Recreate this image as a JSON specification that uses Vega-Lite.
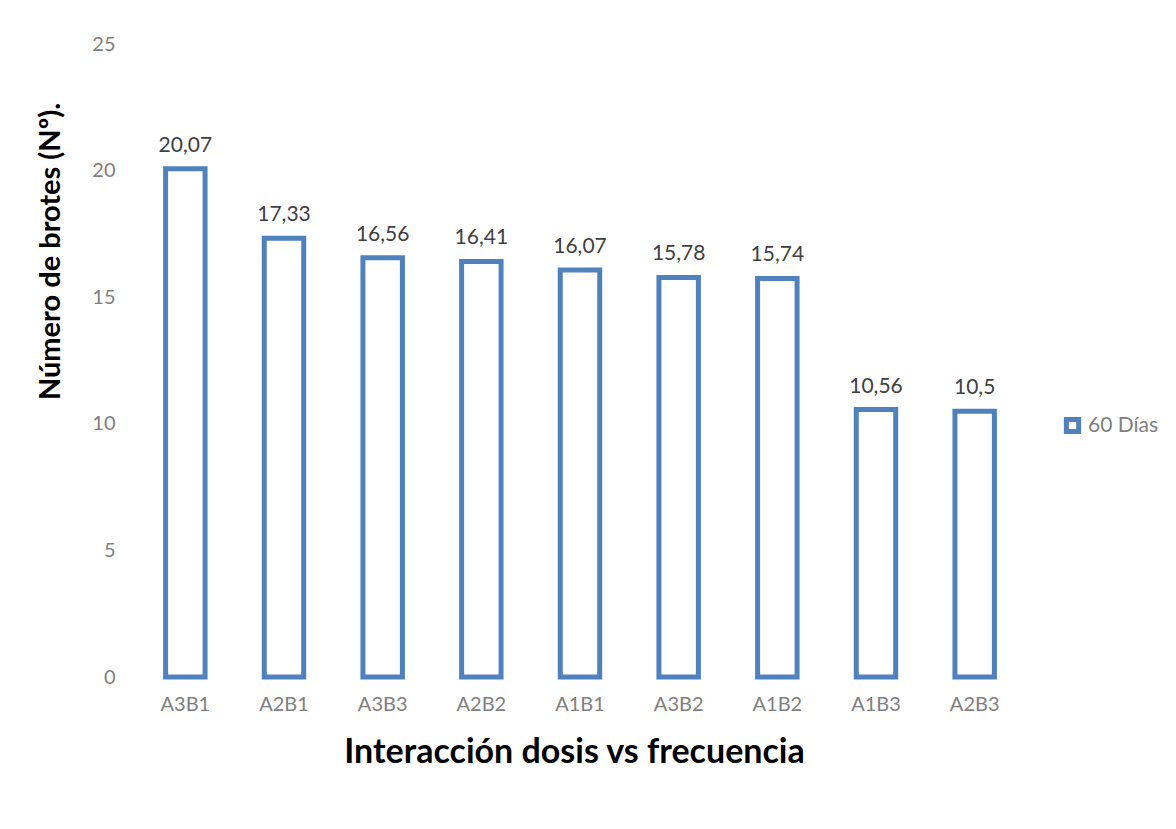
{
  "$schema": "https://vega.github.io/schema/vega-lite/v6.json",
  "width": 888,
  "height": 633,
  "autosize": {"type": "none"},
  "padding": {"left": 136, "top": 44, "right": 152, "bottom": 152},
  "background": "white",
  "data": {
    "values": [
      {"trat": "A3B1", "valor": 20.07, "serie": "60 Días"},
      {"trat": "A2B1", "valor": 17.33, "serie": "60 Días"},
      {"trat": "A3B3", "valor": 16.56, "serie": "60 Días"},
      {"trat": "A2B2", "valor": 16.41, "serie": "60 Días"},
      {"trat": "A1B1", "valor": 16.07, "serie": "60 Días"},
      {"trat": "A3B2", "valor": 15.78, "serie": "60 Días"},
      {"trat": "A1B2", "valor": 15.74, "serie": "60 Días"},
      {"trat": "A1B3", "valor": 10.56, "serie": "60 Días"},
      {"trat": "A2B3", "valor": 10.5, "serie": "60 Días"}
    ]
  },
  "encoding": {
    "x": {
      "field": "trat", "type": "nominal", "sort": null,
      "scale": {"paddingInner": 0.6, "paddingOuter": 0.3},
      "axis": {
        "title": "Interacción dosis vs frecuencia",
        "labelAngle": 0, "labelFont": "Lato", "labelFontSize": 20, "labelColor": "#808080",
        "labelPadding": 17, "ticks": false, "domain": false,
        "titleFont": "Lato", "titleFontSize": 34, "titleFontWeight": "bold", "titleColor": "#000000",
        "titleX": 438, "titleY": 75, "titleBaseline": "middle"
      }
    },
    "y": {
      "field": "valor", "type": "quantitative",
      "scale": {"domain": [0, 25]},
      "axis": {
        "title": "Número de brotes (Nº).",
        "values": [0, 5, 10, 15, 20, 25],
        "grid": false, "ticks": false, "domain": false,
        "labelFont": "Lato", "labelFontSize": 20, "labelColor": "#808080", "labelPadding": 21,
        "titleFont": "Lato", "titleFontSize": 29, "titleFontWeight": "bold", "titleColor": "#000000",
        "titleAngle": -90, "titleX": -86, "titleY": 207, "titleAlign": "center", "titleBaseline": "middle"
      }
    }
  },
  "layer": [
    {
      "mark": {"type": "bar", "fill": "white", "strokeWidth": 5},
      "encoding": {
        "stroke": {
          "field": "serie", "type": "nominal",
          "scale": {"range": ["#4F81BD"]},
          "legend": {
            "title": null, "orient": "none", "legendX": 926, "legendY": 371,
            "symbolType": "square", "symbolFillColor": "white", "symbolStrokeWidth": 5, "symbolSize": 150,
            "labelFont": "Lato", "labelFontSize": 21, "labelColor": "#808080", "labelOffset": 5
          }
        }
      }
    },
    {
      "mark": {"type": "text", "baseline": "alphabetic", "dy": -17, "font": "Lato", "fontSize": 21, "color": "#404040"},
      "encoding": {
        "text": {"field": "valor", "type": "quantitative", "format": "~g"}
      }
    }
  ],
  "config": {
    "view": {"stroke": null},
    "locale": {"number": {"decimal": ",", "thousands": ".", "grouping": [3], "currency": ["", " €"]}}
  }
}
